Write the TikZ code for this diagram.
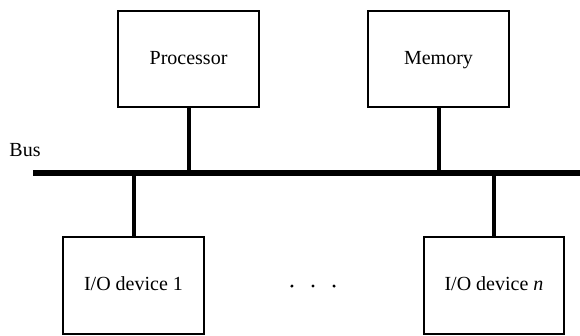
\documentclass[tikz,border=0pt]{standalone}
\usepackage{fontspec}
\setmainfont{Liberation Serif}

\tikzset{
  unit/.style={draw,line width=1pt,minimum width=2.47cm,minimum height=1.70cm,inner sep=2pt,
    text height=1.55ex,text depth=0.45ex,font=\normalsize},
  tap/.style={line width=2pt},
  busline/.style={line width=2.8pt}
}

\begin{document}
\begin{tikzpicture}[line width=0.9pt]
  \useasboundingbox (0,0) rectangle (10.192,-5.887);
  % bus
  \coordinate (busL) at (0.58,-3.04);
  \coordinate (busR) at (10.192,-3.04);
  \draw[busline] (busL)--(busR);
  \node (buslabel) at (0.44,-2.636){Bus};
  % arriba
  \node[unit] (proc) at (3.313,-1.037){Processor};
  \node[unit] (mem) at (7.706,-1.037){Memory};
  % abajo
  \node[unit] (io1) at (2.346,-5.017){I/O device 1};
  \node[unit] (ion) at (8.681,-5.017){I/O device \textit{n}};
  % conexiones
  \foreach \u in {proc,mem} \draw[tap] (\u.south)--(\u.south |- busL);
  \foreach \u in {io1,ion} \draw[tap] (\u.north)--(\u.north |- busL);
  \foreach \x in {-0.37,0,0.37} \fill (5.50+\x,-5.026) circle (0.85pt);
\end{tikzpicture}
\end{document}
